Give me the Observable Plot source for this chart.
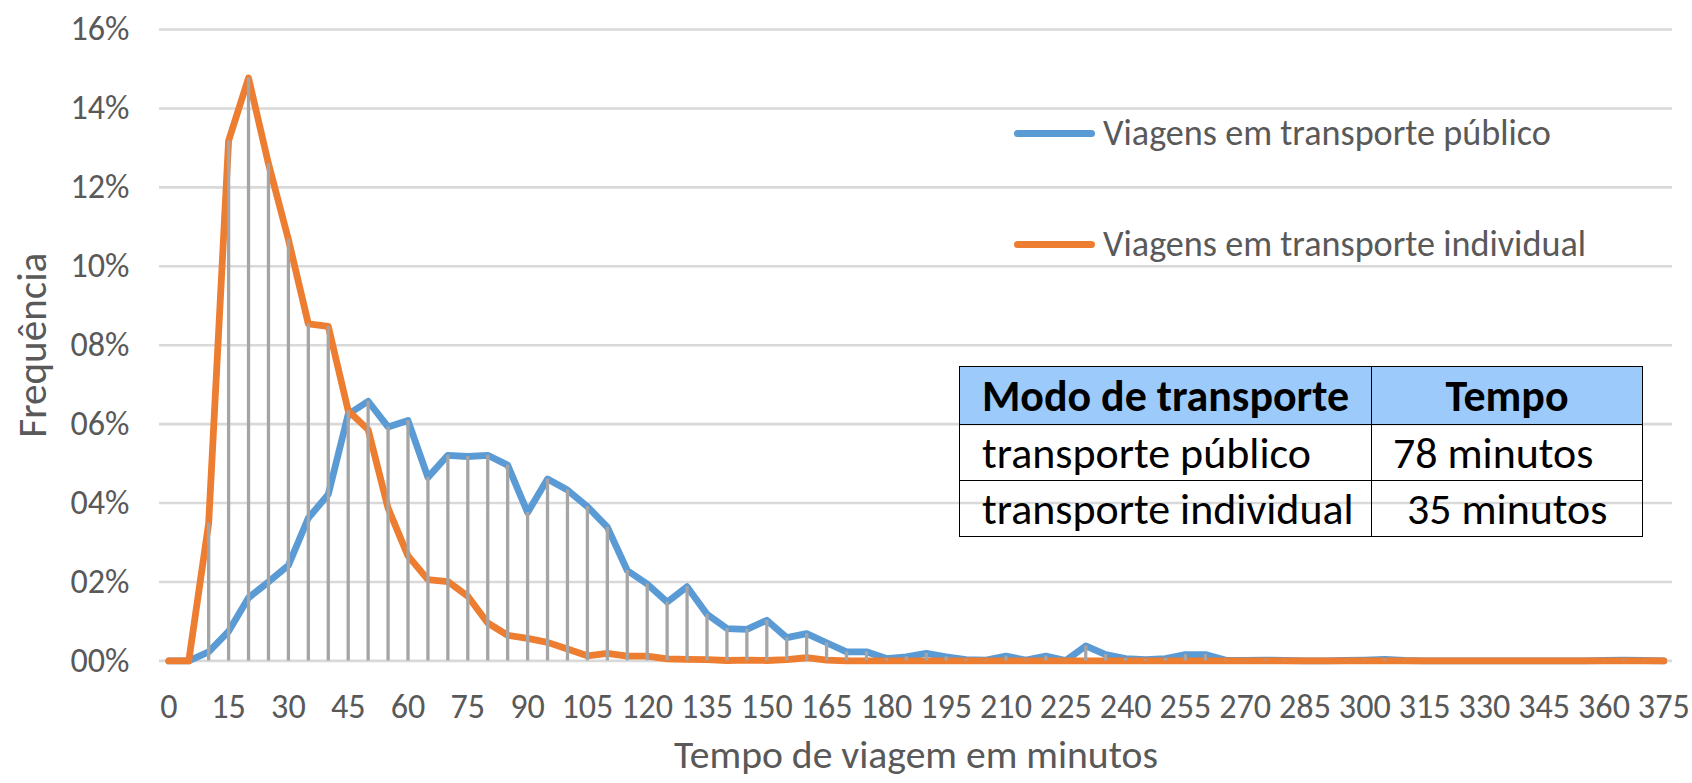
<!DOCTYPE html>
<html>
<head>
<meta charset="utf-8">
<script src="https://cdn.jsdelivr.net/npm/d3@7"></script>
<script src="https://cdn.jsdelivr.net/npm/@observablehq/plot@0.6"></script>
<style>
  html, body { margin: 0; padding: 0; background: #ffffff; }
  #wrap { position: relative; width: 1692px; height: 783px; overflow: hidden; background: #fff; }
  #wrap svg { position: absolute; left: 0; top: 0; }
  .leg-line { position: absolute; height: 7px; border-radius: 3.5px; }
  .leg-text { position: absolute; color: #595959; white-space: nowrap; line-height: 1; }
  #tbl { position: absolute; border-collapse: collapse; color: #000; }
  #tbl td, #tbl th { border: 1.5px solid #000; padding: 0; white-space: pre; }
  #tbl th { background: #9ccbfb; font-weight: bold; text-align: center; }
</style>
</head>
<body>
<div id="wrap"></div>
<script>
// ---------- data ----------
const minutes = [0,5,10,15,20,25,30,35,40,45,50,55,60,65,70,75,80,85,90,95,100,105,110,115,120,125,130,135,140,145,150,155,160,165,170,175,180,185,190,195,200,205,210,215,220,225,230,235,240,245,250,255,260,265,270,275,280,285,290,295,300,305,310,315,320,325,330,335,340,345,350,355,360,365,370,375];
// frequency in percent
const publico = [0,0,0.23,0.75,1.6,2.0,2.42,3.62,4.22,6.25,6.58,5.93,6.09,4.65,5.21,5.18,5.21,4.96,3.76,4.61,4.33,3.91,3.39,2.29,1.95,1.49,1.88,1.18,0.82,0.8,1.03,0.59,0.69,0.46,0.23,0.23,0.06,0.1,0.19,0.1,0.03,0.02,0.12,0.02,0.12,0.01,0.38,0.16,0.06,0.03,0.06,0.16,0.16,0.02,0.01,0.02,0.01,0,0,0.01,0.02,0.04,0.01,0,0,0,0,0,0,0,0,0,0.01,0.02,0.01,0];
const individual = [0,0,3.49,13.18,14.77,12.6,10.68,8.54,8.48,6.34,5.86,3.87,2.66,2.06,2.01,1.64,0.96,0.65,0.57,0.47,0.3,0.13,0.19,0.12,0.12,0.05,0.04,0.03,0.01,0.02,0.01,0.03,0.08,0.02,0,0,0,0,0,0,0,0,0,0,0,0,0,0,0,0,0,0,0,0,0,0,0,0,0,0,0,0,0,0,0,0,0,0,0,0,0,0,0,0,0,0];
const xTicks = [0,15,30,45,60,75,90,105,120,135,150,165,180,195,210,225,240,255,270,285,300,315,330,345,360,375];
const yTicks = [0,2,4,6,8,10,12,14,16];
const seriesNames = ["Viagens em transporte público", "Viagens em transporte individual"];
const seriesColors = ["#5b9bd5", "#ed7d31"];
const xTitle = "Tempo de viagem em minutos";
const yTitle = "Frequência";
const tableHeader = ["Modo de transporte", "Tempo"];
const tableRows = [["transporte público", "78 minutos"], ["transporte individual", "35 minutos"]];

// ---------- helpers ----------
const FONT = "Carlito, Calibri, Lato, 'Open Sans', sans-serif";
const ctx = document.createElement("canvas").getContext("2d");
function fitSize(text, targetWidth, weight = "normal") {
  ctx.font = `${weight} 100px ${FONT}`;
  return 100 * targetWidth / ctx.measureText(text).width;
}
const tickSize = (fitSize("105", 50.6) + fitSize("16%", 60.5)) / 2;
const xTitleSize = fitSize(xTitle, 484);
const yTitleSize = fitSize(yTitle, 185);
const legendSize = fitSize(seriesNames[0], 448);
const tableSize = (fitSize(tableRows[1][0], 372) + fitSize(tableHeader[0], 367, "bold")) / 2;

const pubRows = minutes.map((m, i) => ({minute: m, value: publico[i]}));
const indRows = minutes.map((m, i) => ({minute: m, value: individual[i]}));
const drops = minutes.map((m, i) => ({minute: m, top: Math.max(publico[i], individual[i])}));
const fmt = d => String(d).padStart(2, "0") + "%";

// ---------- chart ----------
const W = 1692, H = 783;
const chart = Plot.plot({
  width: W, height: H,
  marginLeft: 159, marginRight: 20, marginTop: 29, marginBottom: 122.6,
  x: {domain: [0, 375], insetLeft: 9.3, insetRight: 8.7},
  y: {domain: [0, 16]},
  style: {fontFamily: FONT, color: "#595959", background: "#ffffff", overflow: "visible"},
  marks: [
    Plot.ruleY(yTicks, {stroke: "#d9d9d9", strokeWidth: 2.6}),
    Plot.axisY(yTicks, {tickSize: 0, tickPadding: 30, tickFormat: fmt, label: null, fontSize: tickSize, fill: "#595959"}),
    Plot.axisX(xTicks, {tickSize: 0, tickPadding: 33, label: null, fontSize: tickSize, fill: "#595959"}),
    Plot.line(pubRows, {x: "minute", y: "value", stroke: seriesColors[0], strokeWidth: 6.8, strokeLinejoin: "round", strokeLinecap: "round"}),
    Plot.line(indRows, {x: "minute", y: "value", stroke: seriesColors[1], strokeWidth: 6.8, strokeLinejoin: "round", strokeLinecap: "round"}),
    Plot.ruleX(drops, {x: "minute", y1: 0, y2: "top", stroke: "#a5a5a5", strokeWidth: 3.3}),
    Plot.text([yTitle], {frameAnchor: "left", dx: -127, rotate: -90, textAnchor: "middle", lineAnchor: "middle", fontSize: yTitleSize, fill: "#595959"}),
    Plot.text([xTitle], {frameAnchor: "bottom", dy: 94, textAnchor: "middle", lineAnchor: "middle", fontSize: xTitleSize, fill: "#595959"})
  ]
});
const wrap = document.getElementById("wrap");
wrap.appendChild(chart);

// ---------- legend ----------
const legendY = [133, 244];
seriesNames.forEach((name, i) => {
  const line = document.createElement("div");
  line.className = "leg-line";
  line.style.left = "1014px";
  line.style.width = "81px";
  line.style.top = (legendY[i] - 3.5) + "px";
  line.style.background = seriesColors[i];
  wrap.appendChild(line);
  const t = document.createElement("div");
  t.className = "leg-text";
  t.textContent = name;
  t.style.fontFamily = FONT;
  t.style.fontSize = legendSize + "px";
  t.style.left = "1103px";
  t.style.top = (legendY[i] - legendSize * 0.5) + "px";
  wrap.appendChild(t);
});

// ---------- table ----------
const tbl = document.createElement("table");
tbl.id = "tbl";
tbl.style.left = "959px";
tbl.style.top = "366px";
tbl.style.width = "684px";
tbl.style.fontFamily = FONT;
tbl.style.fontSize = tableSize + "px";
const colW = [412, 272];
const rowH = [57, 55, 55];
const col2Pad = [21, 35];
const trh = document.createElement("tr");
tableHeader.forEach((h, j) => {
  const th = document.createElement("th");
  th.textContent = h;
  th.style.width = colW[j] + "px";
  th.style.height = rowH[0] + "px";
  trh.appendChild(th);
});
tbl.appendChild(trh);
tableRows.forEach((r, i) => {
  const tr = document.createElement("tr");
  r.forEach((c, j) => {
    const td = document.createElement("td");
    td.textContent = c;
    td.style.height = rowH[i + 1] + "px";
    td.style.textAlign = "left";
    td.style.paddingLeft = (j === 0 ? 22 : col2Pad[i]) + "px";
    tr.appendChild(td);
  });
  tbl.appendChild(tr);
});
wrap.appendChild(tbl);
</script>
</body>
</html>
